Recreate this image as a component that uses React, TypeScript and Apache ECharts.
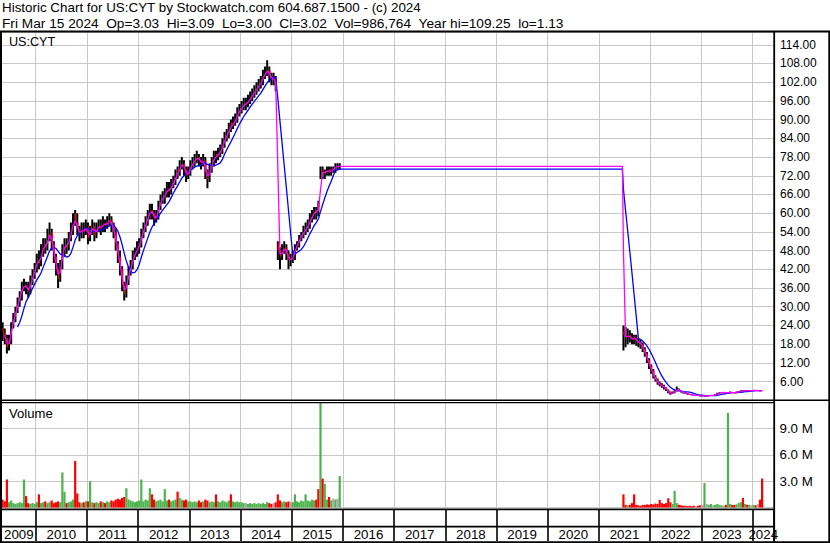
import React, { useEffect, useRef } from 'react';
import * as echarts from 'echarts';

// ---------- text ----------
const titleLine1 = 'Historic Chart for US:CYT by Stockwatch.com 604.687.1500 - (c) 2024';
const titleLine2 = 'Fri Mar 15 2024 \u00a0Op=3.03 \u00a0Hi=3.09 \u00a0Lo=3.00 \u00a0Cl=3.02 \u00a0Vol=986,764 \u00a0Year hi=109.25 \u00a0lo=1.13';
const symbolLabel = 'US:CYT';
const volumeLabel = 'Volume';
const yearLabels = [2009, 2010, 2011, 2012, 2013, 2014, 2015, 2016, 2017, 2018, 2019, 2020, 2021, 2022, 2023, 2024];

// ---------- data (semi-monthly periods) ----------
// segment A starts first half of May 2009
const startA = { year: 2009, month: 5, half: 0 };
// [open, high, low, close]
const pricesA: number[][] = [
  [23, 25, 19, 22], [22, 23, 18, 20], [20, 21, 15, 17], [17, 21, 16, 19], [19, 25, 18, 24], [24, 28, 23, 26],
  [26, 30, 25, 29], [29, 33, 28, 31], [31, 35, 30, 34], [34, 38, 32, 36], [36, 39, 35, 37], [37, 38, 34, 36],
  [36, 38, 33, 35], [35, 40, 34, 38], [38, 42, 37, 40], [40, 44, 39, 42],
  // 2010
  [42, 47, 41, 45], [45, 48, 42, 44], [44, 50, 43, 47], [47, 52, 46, 50], [50, 52, 47, 49], [49, 55, 48, 52],
  [52, 57, 51, 54], [54, 55, 48, 50], [50, 51, 44, 46], [46, 47, 40, 42], [42, 44, 36, 39], [39, 45, 38, 43],
  [43, 50, 42, 48], [48, 52, 46, 50], [50, 52, 47, 49], [49, 54, 48, 52], [52, 57, 51, 54], [54, 60, 53, 58],
  [60, 61, 56, 57], [57, 60, 53, 55], [55, 56, 51, 53], [53, 57, 52, 55], [55, 57, 52, 54], [54, 58, 53, 56],
  // 2011
  [56, 57, 50, 52], [52, 56, 51, 54], [54, 58, 53, 56], [56, 57, 51, 53], [53, 57, 52, 55], [55, 58, 54, 56],
  [56, 58, 53, 55], [55, 59, 54, 57], [57, 58, 54, 56], [56, 59, 55, 57], [57, 60, 56, 58], [58, 59, 54, 56],
  [56, 57, 52, 54], [54, 55, 48, 50], [50, 51, 44, 46], [46, 48, 40, 42], [42, 43, 35, 37], [37, 38, 32, 34],
  [34, 40, 33, 38], [38, 43, 37, 41], [41, 45, 40, 43], [43, 48, 42, 46], [46, 49, 45, 47], [47, 51, 46, 49],
  // 2012
  [49, 52, 47, 50], [50, 55, 49, 53], [53, 57, 52, 55], [55, 59, 54, 57], [57, 61, 56, 59], [59, 63, 58, 61],
  [61, 63, 58, 60], [60, 61, 56, 58], [58, 61, 57, 59], [59, 64, 58, 62], [62, 66, 61, 64], [64, 67, 63, 65],
  [65, 68, 63, 66], [66, 70, 65, 68], [68, 70, 65, 67], [67, 71, 66, 69], [69, 72, 68, 70], [70, 74, 69, 72],
  [74, 75, 71, 73], [73, 77, 72, 75], [75, 78, 74, 76], [76, 77, 72, 74], [74, 75, 70, 72], [72, 75, 71, 73],
  // 2013
  [73, 77, 72, 75], [75, 78, 74, 76], [76, 79, 75, 77], [77, 80, 76, 78], [78, 79, 75, 77], [77, 78, 74, 76],
  [76, 79, 75, 77], [77, 78, 71, 73], [73, 74, 68, 71], [71, 76, 70, 74], [74, 78, 73, 76], [76, 80, 75, 78],
  [79, 80, 76, 78], [78, 81, 77, 79], [79, 82, 78, 80], [80, 84, 79, 82], [82, 86, 81, 84], [84, 87, 83, 85],
  [85, 89, 84, 87], [89, 90, 86, 88], [88, 91, 87, 89], [89, 92, 88, 90], [90, 94, 89, 92], [92, 95, 91, 93],
  // 2014
  [93, 96, 92, 94], [94, 97, 93, 95], [95, 97, 93, 95], [95, 98, 94, 96], [96, 99, 95, 97], [97, 100, 96, 98],
  [98, 101, 97, 99], [99, 102, 98, 100], [100, 103, 99, 101], [101, 104, 100, 102], [102, 106, 101, 104], [104, 107, 103, 105],
  [105, 109, 104, 106], [106, 107, 102, 104], [104, 105, 101, 103], [103, 105, 101, 103], [103, 104, 99, 101], [50, 51, 45, 48],
  [48, 49, 42, 46], [46, 50, 45, 48], [48, 51, 47, 49], [49, 50, 45, 47], [47, 48, 42, 45], [45, 47, 43, 45],
  // 2015
  [45, 48, 44, 46], [46, 50, 45, 49], [49, 51, 48, 50], [50, 53, 49, 52], [52, 54, 51, 53], [53, 56, 52, 54],
  [54, 57, 53, 55], [55, 58, 54, 56], [56, 60, 55, 58], [58, 61, 57, 59], [59, 62, 58, 61], [61, 62, 58, 60],
  [63, 64, 59, 62], [72, 75, 71, 73], [74, 75, 71, 73], [72, 74, 71, 73], [73, 75, 72, 74], [74, 75, 72, 73],
  [73, 75, 72, 74], [74, 75, 73, 74], [74, 76, 73, 75], [75, 76, 74, 75], [74, 76, 74, 75],
];
// millions of shares
const volumeA: number[] = [
  0.9, 0.7, 3.2, 0.6, 0.8, 0.5, 0.4, 0.5, 0.6, 0.5, 3.2, 1.3, 0.5, 0.4, 0.5, 0.4,
  0.6, 1.5, 0.5, 0.6, 0.7, 0.5, 0.6, 0.8, 0.5, 0.6, 0.7, 0.6, 4.0, 1.8, 0.5, 0.6, 0.7, 0.9, 5.3, 1.6, 0.6, 0.5, 0.6, 0.7,
  0.7, 3.0, 0.6, 0.5, 0.6, 0.5, 0.7, 0.6, 0.5, 0.7, 0.6, 0.8, 0.7, 0.9, 1.0, 0.9, 1.1, 1.2, 2.2, 0.9, 0.8, 0.7, 0.6, 0.7,
  0.8, 3.2, 0.7, 0.9, 0.8, 2.2, 1.5, 0.9, 0.7, 0.8, 0.9, 0.7, 2.1, 0.8, 0.9, 0.7, 0.8, 0.9, 1.8, 1.1, 0.9, 0.8, 0.9, 0.7,
  0.7, 0.6, 0.7, 0.6, 0.8, 0.6, 0.7, 0.9, 0.8, 0.6, 0.7, 0.6, 1.5, 0.7, 0.6, 0.8, 0.7, 0.6, 0.8, 1.5, 0.7, 0.6, 0.7, 0.6,
  0.6, 0.5, 0.5, 0.4, 0.5, 0.4, 0.5, 0.4, 0.5, 0.4, 0.5, 0.4, 0.6, 0.5, 0.4, 0.5, 0.6, 1.5, 0.8, 0.6, 0.7, 0.6, 0.7, 0.6,
  0.6, 1.5, 0.7, 0.6, 0.8, 0.7, 1.5, 0.8, 0.7, 0.9, 0.8, 0.9, 2.1, 14.0, 3.3, 2.7, 0.9, 1.2, 0.8, 1.0, 0.9, 1.0, 3.6,
];

// segment B starts second half of June 2021
const startB = { year: 2021, month: 6, half: 1 };
const pricesB: number[][] = [
  [22, 24, 16, 21], [21, 23.5, 17, 20], [20, 23, 18, 21], [21, 22.5, 18.5, 20], [20, 21.5, 18, 19.5], [20.5, 21, 18, 20],
  [20, 21, 17.5, 19], [19, 20, 17, 18.5], [18.5, 19.5, 16.5, 18], [18, 18.5, 15.5, 16.5], [16.5, 17, 14, 15], [15, 15.5, 12, 13],
  [13, 13.5, 10, 11], [11, 11.5, 8.5, 9.5], [9.5, 10, 7, 7.5], [7.5, 8, 6, 6.5], [6.5, 7, 5, 5.5], [5.5, 6, 4.5, 5],
  [5, 5.5, 4, 4.5], [4.5, 5, 3.5, 4], [4, 4.2, 3, 3.3], [3.3, 3.5, 2.3, 2.6], [2.6, 2.8, 1.8, 2.1], [2.1, 2.8, 2, 2.4],
  [2.4, 3.2, 2.3, 2.9], [2.9, 4.4, 2.8, 3.6], [3.6, 3.8, 3, 3.2], [3.2, 3.3, 2.5, 2.7], [2.7, 2.8, 2.2, 2.4], [2.4, 2.5, 2.0, 2.2],
  [2.2, 2.3, 1.8, 2.0], [2.0, 2.1, 1.7, 1.8], [1.8, 1.9, 1.6, 1.7], [1.7, 1.8, 1.5, 1.6], [1.6, 1.7, 1.5, 1.6], [1.6, 1.7, 1.4, 1.5],
  [1.5, 1.6, 1.2, 1.4], [1.4, 1.5, 1.2, 1.4], [1.3, 1.5, 1.13, 1.4], [1.4, 1.5, 1.2, 1.4], [1.4, 1.6, 1.3, 1.5], [1.5, 1.7, 1.4, 1.6],
  [1.6, 1.7, 1.5, 1.6], [1.6, 2.0, 1.5, 1.8], [1.8, 2.4, 1.7, 2.2], [2.2, 2.6, 2.1, 2.4], [2.4, 2.7, 2.3, 2.5], [2.5, 2.6, 2.3, 2.5],
  [2.5, 2.6, 2.2, 2.4], [2.3, 2.6, 2.1, 2.4], [2.4, 2.8, 2.2, 2.6], [2.6, 2.7, 2.4, 2.5], [2.5, 2.6, 2.3, 2.4], [2.4, 2.8, 2.3, 2.6],
  [2.6, 3.0, 2.5, 2.8], [2.8, 3.2, 2.7, 3.0], [3.1, 3.2, 2.8, 3.0], [3.0, 3.3, 2.9, 3.1], [3.1, 3.2, 2.9, 3.0], [3.0, 3.2, 2.9, 3.1],
  [3.1, 3.2, 3.0, 3.1], [3.1, 3.3, 3.0, 3.2], [3.2, 3.3, 3.0, 3.1], [3.1, 3.2, 3.0, 3.1], [3.1, 3.2, 2.9, 3.0], [3.03, 3.09, 3.0, 3.02],
];
const volumeB: number[] = [
  1.5, 0.3, 0.25, 0.3, 0.5, 1.5, 0.3, 0.25, 0.2, 0.3, 0.3, 0.35, 0.3, 0.4, 0.35, 0.45, 0.4, 0.85, 0.5, 0.4, 0.5, 1.05,
  0.6, 0.4, 1.9, 0.5, 0.3, 0.25, 0.2, 0.2, 0.15, 0.2, 0.15, 0.2, 0.15, 0.2, 0.25, 0.3, 2.8, 0.4, 0.3, 0.4, 0.25, 0.3,
  0.4, 0.3, 0.25, 0.2, 0.3, 10.8, 0.4, 0.3, 0.3, 0.35, 0.5, 0.6, 1.1, 0.4, 0.3, 0.3, 0.25, 0.3, 0.25, 0.4, 0.9, 3.3,
];

const segments = [
  { start: startA, prices: pricesA, volume: volumeA },
  { start: startB, prices: pricesB, volume: volumeB },
];

// ---------- layout constants ----------
const PX_PER_YEAR = 51.2;
const GRID_LEFT = -15.5; // 1 Jan 2009 sits just off the left edge
const PLOT_LEFT = 2;
const PLOT_RIGHT = 774;
const GRID_WIDTH = PLOT_RIGHT - GRID_LEFT;
const X_MIN = 2009;
const X_MAX = X_MIN + GRID_WIDTH / PX_PER_YEAR;
const X_VISIBLE = X_MIN + (PLOT_LEFT - GRID_LEFT) / PX_PER_YEAR;
const FONT = "'Liberation Sans', Arial, Helvetica, sans-serif";

function periodX(start: { year: number; month: number; half: number }, k: number) {
  const idx = (start.month - 1) * 2 + start.half + k;
  return start.year + Math.floor(idx / 24) + (idx % 24) / 24 + 1 / 48;
}

type Bar = { x: number; o: number; h: number; l: number; c: number; v: number; seg: number };
const bars: Bar[] = [];
segments.forEach((s, si) =>
  s.prices.forEach((p, k) =>
    bars.push({ x: periodX(s.start, k), o: p[0], h: p[1], l: p[2], c: p[3], v: s.volume[k], seg: si })
  )
);

function movingAverage(n: number) {
  const out: number[][] = [];
  for (let i = n - 1; i < bars.length; i++) {
    let sum = 0;
    for (let j = i - n + 1; j <= i; j++) sum += bars[j].c;
    if (i > 0 && bars[i].seg !== bars[i - 1].seg && out.length) {
      out.push([bars[i].x - 0.02, out[out.length - 1][1]]);
    }
    out.push([bars[i].x, sum / n]);
  }
  return out;
}

const yearLabelPos = yearLabels.map((y) => {
  const a = Math.max(y, X_VISIBLE);
  const b = Math.min(y + 1, X_MAX);
  return (a + b) / 2;
});

export default function App() {
  const ref = useRef<HTMLDivElement>(null);
  useEffect(() => {
    document.body.style.margin = '0';
    const chart = echarts.init(ref.current!, undefined, { renderer: 'svg' });
    const gridLine = { show: true, lineStyle: { color: '#c8c8c8', width: 1 } };
    const baseX = {
      type: 'value',
      min: X_MIN,
      max: X_MAX,
      interval: 1,
      axisLine: { show: false },
      axisTick: { show: false },
      axisLabel: { show: false },
      splitLine: gridLine,
    };
    const blk = (x: number, y: number, w: number, h: number) => ({
      type: 'rect',
      z: 50,
      shape: { x, y, width: w, height: h },
      style: { fill: '#000' },
      silent: true,
    });
    const txt = (x: number, y: number, text: string, size: number) => ({
      type: 'text',
      z: 60,
      x,
      y,
      style: { text, fill: '#000', font: `${size}px ${FONT}`, textVerticalAlign: 'middle', textAlign: 'left' },
      silent: true,
    });
    const gridBase = { left: GRID_LEFT, width: GRID_WIDTH, containLabel: false, outerBoundsMode: 'none' };
    const option: any = {
      animation: false,
      backgroundColor: '#ffffff',
      grid: [
        { ...gridBase, top: 32.3, height: 368 },
        { ...gridBase, top: 402.3, height: 105.2 },
        { ...gridBase, top: 509.5, height: 31.5 },
      ],
      xAxis: [
        { ...baseX, gridIndex: 0 },
        { ...baseX, gridIndex: 1 },
        {
          ...baseX,
          gridIndex: 2,
          splitLine: { show: true, lineStyle: { color: '#000', width: 1.6 } },
          axisLabel: {
            show: true,
            inside: true,
            margin: 6.5,
            verticalAlign: 'middle',
            customValues: yearLabelPos,
            formatter: (v: number) => String(Math.floor(v)),
            fontSize: 13.3,
            fontFamily: FONT,
            color: '#000',
          },
        },
      ],
      yAxis: [
        {
          type: 'value',
          gridIndex: 0,
          position: 'right',
          min: 0,
          max: 118,
          interval: 6,
          axisLine: { show: false },
          axisTick: { show: false },
          splitLine: gridLine,
          axisLabel: {
            margin: 6,
            fontSize: 12,
            fontFamily: FONT,
            color: '#000',
            formatter: (v: number) => {
              const r = Math.round(v);
              if (Math.abs(v - r) > 1e-6 || r <= 0 || r > 114 || r % 6 !== 0) return '';
              return r.toFixed(2);
            },
          },
        },
        {
          type: 'value',
          gridIndex: 1,
          position: 'right',
          min: 0,
          max: 12,
          interval: 3,
          axisLine: { show: false },
          axisTick: { show: false },
          splitLine: gridLine,
          axisLabel: {
            margin: 5.5,
            fontSize: 13.3,
            fontFamily: FONT,
            color: '#000',
            formatter: (v: number) => (v > 0 && v < 12 ? v.toFixed(1) + ' M' : ''),
          },
        },
        { type: 'value', gridIndex: 2, min: 0, max: 1, show: false },
      ],
      series: [
        {
          type: 'custom',
          name: 'Price',
          xAxisIndex: 0,
          yAxisIndex: 0,
          clip: true,
          z: 2,
          encode: { x: 0, y: [1, 2, 3, 4] },
          data: bars.map((b) => [b.x, b.o, b.h, b.l, b.c]),
          renderItem: (params: any, api: any) => {
            const x = api.value(0);
            const o = api.value(1);
            const h = api.value(2);
            const l = api.value(3);
            const c = api.value(4);
            const top = api.coord([x, h]);
            const bot = api.coord([x, l]);
            const children: any[] = [
              {
                type: 'line',
                shape: { x1: top[0], y1: top[1], x2: bot[0], y2: bot[1] },
                style: { stroke: '#000', lineWidth: 2 },
              },
            ];
            if (c < o) {
              const po = api.coord([x, o]);
              const pc = api.coord([x, c]);
              children.push({
                type: 'line',
                shape: { x1: po[0] + 0.5, y1: po[1], x2: pc[0] + 0.5, y2: pc[1] },
                style: { stroke: '#ff0000', lineWidth: 1.3 },
              });
            }
            return { type: 'group', children };
          },
        },
        {
          type: 'line',
          name: 'MA long',
          xAxisIndex: 0,
          yAxisIndex: 0,
          data: movingAverage(8),
          showSymbol: false,
          clip: true,
          z: 3,
          lineStyle: { color: '#0000ff', width: 1.3 },
          itemStyle: { color: '#0000ff' },
        },
        {
          type: 'line',
          name: 'MA short',
          xAxisIndex: 0,
          yAxisIndex: 0,
          data: movingAverage(2),
          showSymbol: false,
          clip: true,
          z: 4,
          lineStyle: { color: '#ff00ff', width: 1.3 },
          itemStyle: { color: '#ff00ff' },
        },
        {
          type: 'bar',
          name: 'Volume',
          xAxisIndex: 1,
          yAxisIndex: 1,
          barWidth: 2.2,
          clip: true,
          data: bars.map((b) => ({
            value: [b.x, b.v],
            itemStyle: { color: b.c > b.o ? '#4db34d' : b.c < b.o ? '#ff0000' : '#a8a8a8' },
          })),
        },
      ],
      graphic: [
        txt(2, 7.8, titleLine1, 13.4),
        txt(2, 23, titleLine2, 13.7),
        txt(9, 42, symbolLabel, 12.6),
        txt(9, 413, volumeLabel, 13.1),
        blk(0, 30.5, 830, 2),
        blk(0, 31, 2, 512),
        blk(773.3, 31, 1.8, 512),
        blk(828.3, 31, 1.7, 512),
        blk(0, 399.6, 830, 1.4),
        blk(0, 402, 775, 1.2),
        blk(0, 508.6, 775, 1.7),
        blk(0, 525.8, 775, 1.7),
        blk(0, 541.3, 830, 1.7),
      ],
    };
    chart.setOption(option);
    return () => chart.dispose();
  }, []);
  return <div ref={ref} style={{ width: 830, height: 543 }} />;
}
